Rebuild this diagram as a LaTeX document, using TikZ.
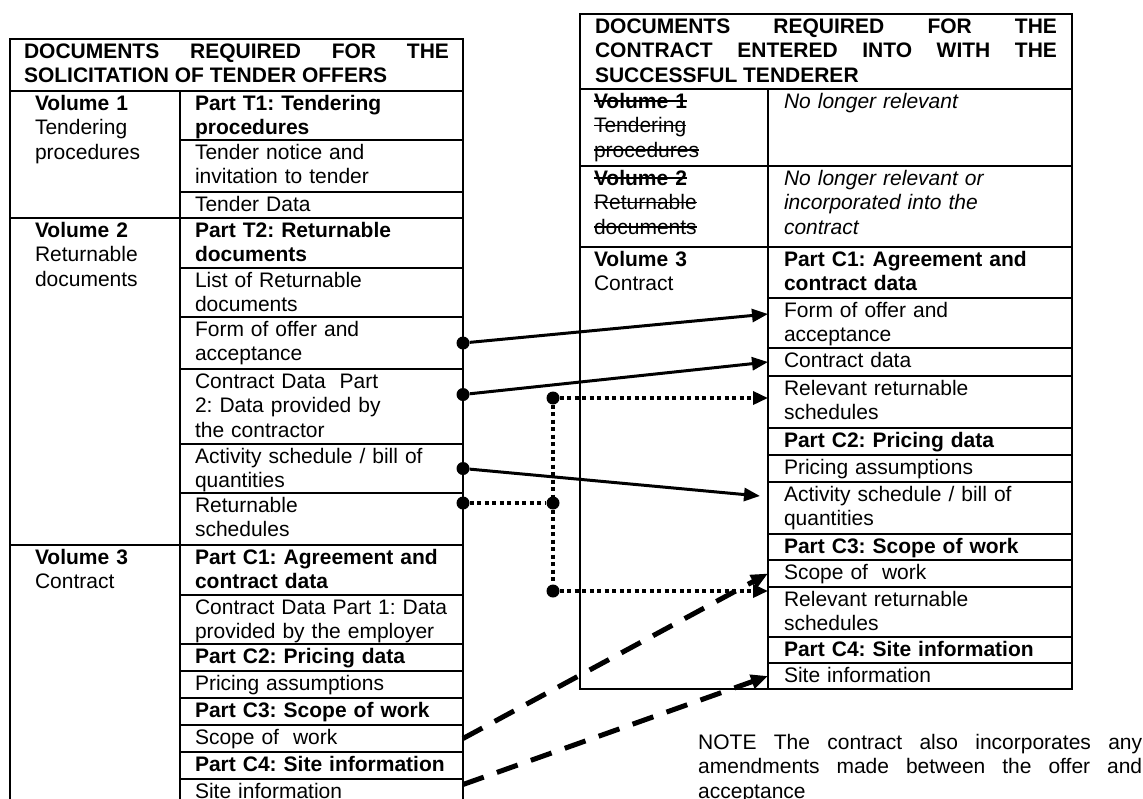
\documentclass[tikz,border=0pt]{standalone}
\usepackage{fontspec}
\setmainfont{Liberation Sans}
\usetikzlibrary{positioning,arrows.meta}
\frenchspacing
\hyphenpenalty=10000
\newsavebox\strikebox
\newcommand{\strikeout}[1]{\leavevmode\sbox\strikebox{#1}\rlap{\rule[0.3em]{\wd\strikebox}{1.5pt}}\usebox\strikebox}

\begin{document}
\begin{tikzpicture}[x=1pt,y=-1pt,font=\fontsize{21pt}{24.5pt}\selectfont,
  tab/.style={draw,line width=2pt,outer sep=0pt,anchor=north west,inner ysep=4pt,
    align=left,text height=15pt,text depth=#1-23pt},
  lvol/.style={tab=#1,inner xsep=25pt,text width=120pt},
  lpart/.style={tab=#1,inner xsep=15pt,text width=253pt},
  rvol/.style={tab=#1,inner xsep=14pt,text width=160pt},
  rpart/.style={tab=#1,inner xsep=16pt,text width=272pt},
  headbox/.style={tab=#1,align=justify,font=\fontsize{21pt}{24.5pt}\selectfont\bfseries},
  dot/.style={circle,fill,inner sep=0pt,minimum size=13pt},
  solidarrow/.style={line width=3pt,-{Triangle[length=16pt,width=13pt]}},
  dotarrow/.style={line width=3.5pt,dash pattern=on 4pt off 3.5pt},
  dasharrow/.style={line width=5pt,dash pattern=on 22pt off 14pt,-{Triangle[length=17pt,width=14pt]}}]

  \path[fill=white,use as bounding box] (0,0) rectangle (1143,798);

  % tender table
  \node[headbox=52pt,inner xsep=14pt,text width=425pt] (lhead) at (10,39) {DOCUMENTS REQUIRED FOR THE\linebreak SOLICITATION OF TENDER OFFERS};

  \node[lvol=127pt] (lvol1) at (lhead.south west) {\textbf{Volume 1}\\Tendering\\procedures};
  \node[lvol=327pt,below=0pt of lvol1] (lvol2) {\textbf{Volume 2}\\Returnable\\documents};
  \node[lvol=261pt,below=0pt of lvol2] (lvol3) {\textbf{Volume 3}\\Contract};

  \node[lpart=49pt] (lt1) at (lvol1.north east) {\textbf{Part T1: Tendering}\\\textbf{procedures}};
  \node[lpart=52pt,below=0pt of lt1] (lnotice) {Tender notice and\\invitation to tender};
  \node[lpart=26pt,below=0pt of lnotice] (ldata) {Tender Data};
  \node[lpart=50pt,below=0pt of ldata] (lt2) {\textbf{Part T2: Returnable}\\\textbf{documents}};
  \node[lpart=49pt,below=0pt of lt2] (llist) {List of Returnable\\documents};
  \node[lpart=52pt,below=0pt of llist] (lform) {Form of offer and\\acceptance};
  \node[lpart=75pt,below=0pt of lform] (lcdp2) {Contract Data~ Part\\2: Data provided by\\the contractor};
  \node[lpart=49pt,below=0pt of lcdp2] (lact) {Activity schedule / bill of\\quantities};
  \node[lpart=52pt,below=0pt of lact] (lret) {Returnable\\schedules};
  \node[lpart=50pt,below=0pt of lret] (lc1) {\textbf{Part C1: Agreement and}\\\textbf{contract data}};
  \node[lpart=49pt,below=0pt of lc1] (lcdp1) {Contract Data Part 1: Data\\provided by the employer};
  \node[lpart=27pt,below=0pt of lcdp1] (lc2) {\textbf{Part C2: Pricing data}};
  \node[lpart=27pt,below=0pt of lc2] (lprice) {Pricing assumptions};
  \node[lpart=27pt,below=0pt of lprice] (lc3) {\textbf{Part C3: Scope of work}};
  \node[lpart=27pt,below=0pt of lc3] (lscope) {Scope of~ work};
  \node[lpart=27pt,below=0pt of lscope] (lc4) {\textbf{Part C4: Site information}};
  \node[lpart=27pt,below=0pt of lc4] (lsite) {Site information};

  % contract table
  \node[headbox=75pt,inner xsep=15pt,text width=462pt] (rhead) at (580,14) {DOCUMENTS REQUIRED FOR THE\linebreak CONTRACT ENTERED INTO WITH THE\linebreak SUCCESSFUL TENDERER};

  \node[rvol=77pt] (rvol1) at (rhead.south west) {\strikeout{\textbf{Volume 1}}\\\strikeout{Tendering}\\\strikeout{procedures}};
  \node[rpart=77pt] (rnone1) at (rvol1.north east) {\textit{No longer relevant}};
  \node[rvol=81pt,below=0pt of rvol1] (rvol2) {\strikeout{\textbf{Volume 2}}\\\strikeout{Returnable}\\\strikeout{documents}};
  \node[rpart=81pt,below=0pt of rnone1] (rnone2) {{\itshape No longer relevant or\\incorporated into the\\contract}};
  \node[rvol=442pt,below=0pt of rvol2] (rvol3) {\textbf{Volume 3}\\Contract};

  \node[rpart=51pt] (rc1) at (rvol3.north east) {\textbf{Part C1: Agreement and}\\\textbf{contract data}};
  \node[rpart=50pt,below=0pt of rc1] (rform) {Form of offer and\\acceptance};
  \node[rpart=28pt,below=0pt of rform] (rcdata) {Contract data};
  \node[rpart=52pt,below=0pt of rcdata] (rrel1) {Relevant returnable\\schedules};
  \node[rpart=27pt,below=0pt of rrel1] (rc2) {\textbf{Part C2: Pricing data}};
  \node[rpart=27pt,below=0pt of rc2] (rprice) {Pricing assumptions};
  \node[rpart=52pt,below=0pt of rprice] (ract) {Activity schedule / bill of\\quantities};
  \node[rpart=26pt,below=0pt of ract] (rc3) {\textbf{Part C3: Scope of work}};
  \node[rpart=27pt,below=0pt of rc3] (rscope) {Scope of~ work};
  \node[rpart=50pt,below=0pt of rscope] (rrel2) {Relevant returnable\\schedules};
  \node[rpart=26pt,below=0pt of rrel2] (rc4) {\textbf{Part C4: Site information}};
  \node[rpart=26pt,below=0pt of rc4] (rsite) {Site information};

  \node[anchor=north west,inner sep=0pt,text width=444pt,align=justify,text height=15pt] (note) at (698,734)
    {NOTE The contract also incorporates any\linebreak amendments made between the offer and\linebreak acceptance};

  % dots and junctions
  \node[dot] (d1) at (lform.east) {};
  \node[dot] (d2) at ([yshift=12pt]lcdp2.east) {};
  \node[dot] (d3) at (lact.east) {};
  \node[dot] (d4) at ([yshift=16pt]lret.east) {};
  \node[dot] (j1) at (553,398) {};
  \node[dot] (j2) at (d4 -| j1) {};
  \node[dot] (j3) at (553,591) {};

  % carried over
  \draw[solidarrow] (d1) -- ([yshift=9pt]rform.west);
  \draw[solidarrow] (d2) -- (rcdata.west);
  \draw[solidarrow] (d3) -- ([xshift=-8pt,yshift=12pt]ract.west);

  % returnable schedules
  \draw[dotarrow] (d4) -- (j2);
  \draw[dotarrow] (j1) -- (j3);
  \draw[dotarrow,-{Triangle[length=15pt,width=13pt]}] (j1) -- (j1 -| rrel1.west);
  \draw[dotarrow,-{Triangle[length=15pt,width=13pt]}] (j3) -- (j3 -| rrel2.west);

  % scope and site
  \draw[dasharrow] (lscope.east) -- (rscope.west);
  \draw[dasharrow] ([yshift=8pt]lsite.east) -- (rsite.west);
\end{tikzpicture}
\end{document}
